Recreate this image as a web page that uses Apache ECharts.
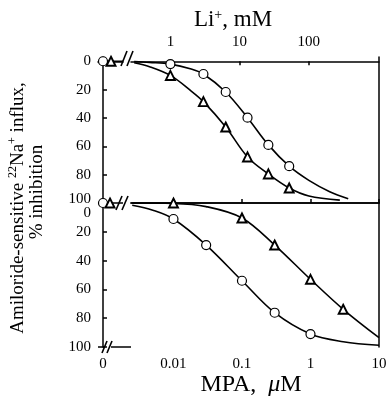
<!DOCTYPE html>
<html><head><meta charset="utf-8">
<script src="https://cdn.jsdelivr.net/npm/echarts@6/dist/echarts.min.js"></script>
<style>html,body{margin:0;padding:0;background:#fff}#c{width:390px;height:404px}</style>
</head><body><div id="c"></div>
<script>
// ---------- data ----------
const liTickLabels = [1, 10, 100];
const mpaTickLabels = [0.01, 0.1, 1, 10];
const pctTickLabels = [0, 20, 40, 60, 80, 100];
const zeroTickLabels = [0];

// Top panel: Li+ (mM)
const liConc = [1, 3, 6.3, 13, 26, 52];
const liCircle = [2, 9, 21.7, 39.8, 59, 74];
const liTriangle = [10, 28.5, 46.4, 67.5, 79.5, 89.4];
const liZeroCircle = [0];
const liZeroTriangle = [0];
const liCircleCurveConc = [0.3, 0.5, 1, 2, 3, 6.3, 13, 26, 52, 100, 200, 370];
const liCircleCurve = [0.2, 0.8, 2, 5.5, 9, 21.7, 39.8, 59, 74, 84, 92, 97];
const liTriangleCurveConc = [0.3, 0.5, 1, 2, 3, 6.3, 13, 26, 52, 100, 280];
const liTriangleCurve = [1, 3.8, 10, 21, 28.5, 46.4, 67.5, 79.5, 89.4, 95, 98];

// Bottom panel: MPA (uM)
const mpaCircleConc = [0.01, 0.03, 0.1, 0.3, 1];
const mpaCircle = [11.1, 29.2, 54, 76.2, 91];
const mpaTriangleConc = [0.01, 0.1, 0.3, 1, 3];
const mpaTriangle = [0, 10.4, 29.2, 53, 73.8];
const mpaZeroCircle = [0];
const mpaZeroTriangle = [0];
const mpaCircleCurveConc = [0.0025, 0.005, 0.01, 0.03, 0.1, 0.3, 1, 3, 10];
const mpaCircleCurve = [1.5, 5, 11.1, 29.2, 54, 76.2, 91, 96.3, 98.8];
const mpaTriangleCurveConc = [0.0025, 0.01, 0.03, 0.1, 0.3, 1, 3, 10];
const mpaTriangleCurve = [0, 0.3, 2.5, 10.4, 29.2, 53, 73.8, 93.5];

// ---------- layout ----------
const FONT = 'Liberation Serif';
const L = 98, LW = 25, B = 131, R = 379, T = 57, M = 203, BOT = 347;
const LEFT_MIN = -0.8333, LEFT_MAX = 3.3333; // zero-segment axis span

const zip = (xs, ys) => xs.map((x, i) => [x, ys[i]]);
const chart = echarts.init(document.getElementById('c'), null, {renderer: 'canvas'});

const lineStyle = {color: '#000', width: 1.6};
const circleSym = {symbol: 'circle', symbolSize: 9, itemStyle: {color: '#fff', borderColor: '#000', borderWidth: 1.2, opacity: 1}};
const triSym = {symbol: 'triangle', symbolSize: 9, itemStyle: {color: '#fff', borderColor: '#000', borderWidth: 1.9, opacity: 1}};

function curve(xi, yi, data) {
  return {type: 'line', xAxisIndex: xi, yAxisIndex: yi, data, smooth: 0.35, showSymbol: false,
    lineStyle, silent: true, clip: false, z: 2};
}
function marks(xi, yi, data, sym, extra) {
  return Object.assign({type: 'scatter', xAxisIndex: xi, yAxisIndex: yi, data, clip: false, z: 5,
    emphasis: {disabled: true}}, sym, extra || {});
}
const labelFont = {fontFamily: FONT, fontSize: 15, color: '#000'};

const option = {
  animation: false,
  backgroundColor: '#fff',
  grid: [
    {left: L, top: T, width: LW, height: M - T},
    {left: B, top: T, width: R - B, height: M - T},
    {left: L, top: M, width: LW, height: BOT - M},
    {left: B, top: M, width: R - B, height: BOT - M}
  ],
  xAxis: [
    {type: 'value', gridIndex: 0, position: 'top', min: LEFT_MIN, max: LEFT_MAX,
      axisLine: {show: true, lineStyle: {color: '#000', width: 1.5}}, axisTick: {show: false}, axisLabel: {show: false}, splitLine: {show: false}},
    {type: 'log', gridIndex: 1, position: 'top', min: 0.27, max: 1030, logBase: 10,
      axisLine: {show: true, lineStyle: {color: '#000', width: 1.5}},
      axisTick: {show: true, inside: true, length: 4, customValues: liTickLabels, lineStyle: {color: '#000', width: 1.5}},
      axisLabel: Object.assign({show: true, margin: 7, customValues: liTickLabels, formatter: v => String(v)}, labelFont),
      splitLine: {show: false}, minorTick: {show: false}},
    {type: 'value', gridIndex: 2, position: 'bottom', min: LEFT_MIN, max: LEFT_MAX,
      axisLine: {show: false}, axisTick: {show: false},
      axisLabel: Object.assign({show: true, margin: 10, customValues: zeroTickLabels, formatter: v => String(v)}, labelFont),
      splitLine: {show: false}},
    {type: 'log', gridIndex: 3, position: 'bottom', min: 0.0024, max: 10, logBase: 10,
      axisLine: {show: true, lineStyle: {color: '#000', width: 1.5}},
      axisTick: {show: true, inside: true, length: 4, customValues: mpaTickLabels, lineStyle: {color: '#000', width: 1.5}},
      axisLabel: Object.assign({show: true, margin: 10, customValues: mpaTickLabels, formatter: v => String(v)}, labelFont),
      splitLine: {show: false}, minorTick: {show: false}},
    {type: 'log', gridIndex: 1, position: 'bottom', min: 0.27, max: 1030, logBase: 10,
      axisLine: {show: true, lineStyle: {color: '#000', width: 1.5}}, axisTick: {show: false}, axisLabel: {show: false}, splitLine: {show: false}}
  ],
  yAxis: [
    {type: 'value', gridIndex: 0, inverse: true, min: -3, max: 100, position: 'left',
      axisLine: {show: true, lineStyle: {color: '#000', width: 1.5}},
      axisTick: {show: true, inside: true, length: 4, customValues: pctTickLabels, lineStyle: {color: '#000', width: 1.5}},
      axisLabel: Object.assign({show: true, margin: 7, customValues: pctTickLabels,
        formatter: v => v === 100 ? '{up|' + v + '}' : String(v),
        rich: {up: {fontFamily: FONT, fontSize: 15, color: '#000', padding: [0, 0, 8, 0]}}}, labelFont),
      splitLine: {show: false}},
    {type: 'value', gridIndex: 1, inverse: true, min: -3, max: 100, position: 'right',
      axisLine: {show: true, lineStyle: {color: '#000', width: 1.5}}, axisTick: {show: false}, axisLabel: {show: false}, splitLine: {show: false}},
    {type: 'value', gridIndex: 2, inverse: true, min: 0, max: 100, position: 'left',
      axisLine: {show: true, lineStyle: {color: '#000', width: 1.5}},
      axisTick: {show: true, inside: true, length: 4, customValues: pctTickLabels.slice(1), lineStyle: {color: '#000', width: 1.5}},
      axisLabel: Object.assign({show: true, margin: 7, customValues: pctTickLabels,
        formatter: v => v === 0 ? '{dn|' + v + '}' : String(v),
        rich: {dn: {fontFamily: FONT, fontSize: 15, color: '#000', padding: [20, 0, 0, 0]}}}, labelFont),
      splitLine: {show: false}},
    {type: 'value', gridIndex: 3, inverse: true, min: 0, max: 100, position: 'right',
      axisLine: {show: true, lineStyle: {color: '#000', width: 1.5}}, axisTick: {show: false}, axisLabel: {show: false}, splitLine: {show: false}}
  ],
  series: [
    curve(1, 1, zip(liCircleCurveConc, liCircleCurve)),
    curve(1, 1, zip(liTriangleCurveConc, liTriangleCurve)),
    curve(0, 0, [[0, liZeroCircle[0]], [LEFT_MAX, liZeroCircle[0]]]),
    marks(1, 1, zip(liConc, liCircle), circleSym),
    marks(1, 1, zip(liConc, liTriangle), triSym),
    marks(0, 0, [[0, liZeroCircle[0]]], circleSym),
    marks(0, 0, [[0, liZeroTriangle[0]]], triSym, {symbolOffset: [8, 0]}),
    curve(3, 3, zip(mpaCircleCurveConc, mpaCircleCurve)),
    curve(3, 3, zip(mpaTriangleCurveConc, mpaTriangleCurve)),
    curve(2, 2, [[0, mpaZeroCircle[0]], [LEFT_MAX, mpaZeroCircle[0]]]),
    marks(3, 3, zip(mpaCircleConc, mpaCircle), circleSym),
    marks(3, 3, zip(mpaTriangleConc, mpaTriangle), triSym),
    marks(2, 2, [[0, mpaZeroCircle[0]]], circleSym),
    marks(2, 2, [[0, mpaZeroTriangle[0]]], triSym, {symbolOffset: [7, 0]})
  ],
  graphic: [
    {type: 'polyline', shape: {points: [[121, 66], [127, 51]]}, style: {stroke: '#000', lineWidth: 1.6}},
    {type: 'polyline', shape: {points: [[127, 66], [133, 51]]}, style: {stroke: '#000', lineWidth: 1.6}},
    {type: 'polyline', shape: {points: [[116, 210], [122, 196]]}, style: {stroke: '#000', lineWidth: 1.6}},
    {type: 'polyline', shape: {points: [[122, 210], [128, 196]]}, style: {stroke: '#000', lineWidth: 1.6}},
    {type: 'polyline', shape: {points: [[98, BOT], [104, BOT]]}, style: {stroke: '#000', lineWidth: 1.5}},
    {type: 'polyline', shape: {points: [[111, BOT], [B, BOT]]}, style: {stroke: '#000', lineWidth: 1.5}},
    {type: 'polyline', shape: {points: [[102, 353], [107, 341]]}, style: {stroke: '#000', lineWidth: 1.6}},
    {type: 'polyline', shape: {points: [[107, 353], [112, 341]]}, style: {stroke: '#000', lineWidth: 1.6}},
    {type: 'text', x: 233, y: 20, style: {
      text: '{n|Li}{s|+}{n|, mM}', x: 0, y: 0, align: 'center', verticalAlign: 'middle',
      rich: {n: {fontFamily: FONT, fontSize: 23, color: '#000', lineHeight: 24},
             s: {fontFamily: FONT, fontSize: 14, color: '#000', verticalAlign: 'top', lineHeight: 24}}}},
    {type: 'text', x: 251, y: 385, style: {
      text: '{n|MPA,  }{i|μ}{n|M}', x: 0, y: 0, align: 'center', verticalAlign: 'middle',
      rich: {n: {fontFamily: FONT, fontSize: 24, color: '#000'},
             i: {fontFamily: FONT, fontSize: 24, fontStyle: 'italic', color: '#000'}}}},
    {type: 'text', x: 18, y: 208, rotation: Math.PI / 2, style: {
      text: '{n|Amiloride-sensitive }{s|22}{n|Na}{s|+}{n| influx,}', x: 0, y: 0, align: 'center', verticalAlign: 'middle',
      rich: {n: {fontFamily: FONT, fontSize: 19, color: '#000', lineHeight: 22},
             s: {fontFamily: FONT, fontSize: 12, color: '#000', verticalAlign: 'top', lineHeight: 22}}}},
    {type: 'text', x: 37, y: 192, rotation: Math.PI / 2, style: {
      text: '% inhibition', x: 0, y: 0, align: 'center', verticalAlign: 'middle',
      fontFamily: FONT, fontSize: 19, fill: '#000'}}
  ]
};
chart.setOption(option);
</script>
</body></html>
